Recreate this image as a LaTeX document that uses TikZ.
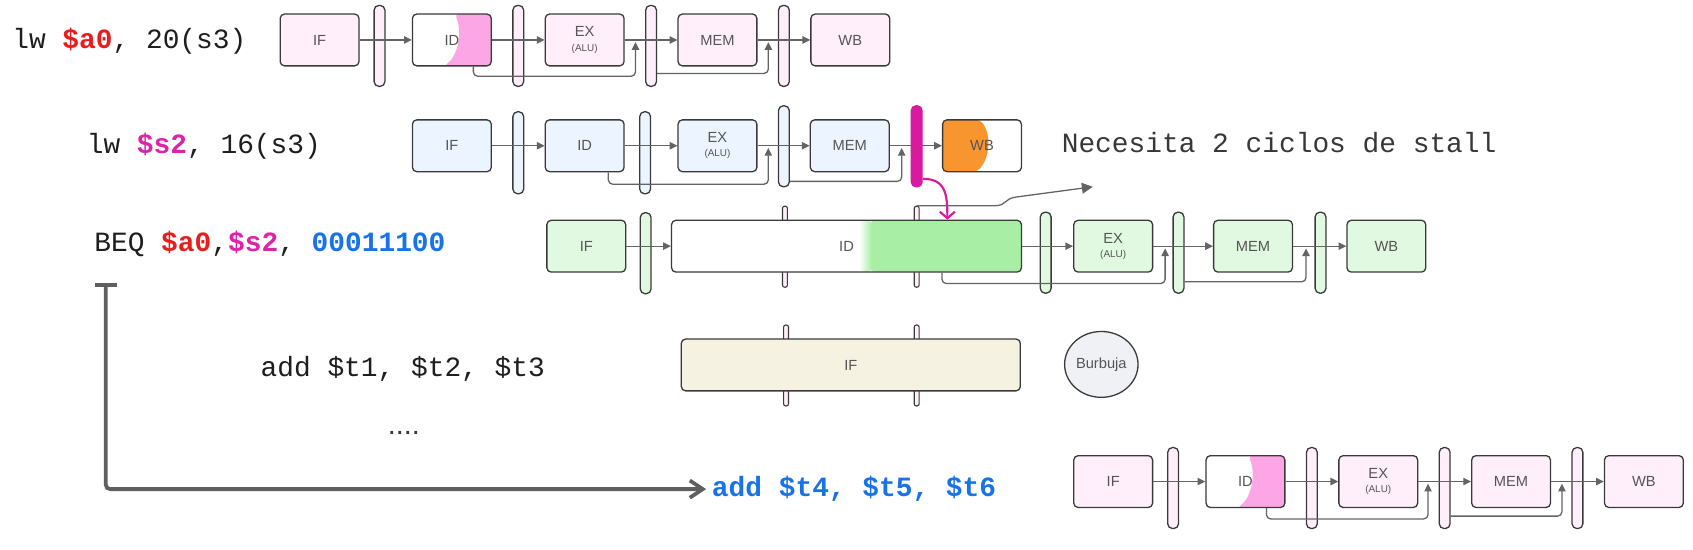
\documentclass[tikz,border=0pt]{standalone}
\usepackage{fontspec}
\setmainfont{Liberation Sans}
\newfontfamily\monof{Liberation Mono}
\usetikzlibrary{arrows.meta,calc,shapes.geometric}

\definecolor{linec}{RGB}{58,58,58}
\definecolor{arrc}{RGB}{100,100,100}
\definecolor{bigarr}{RGB}{95,95,95}
\definecolor{lblc}{RGB}{85,85,85}
\definecolor{pinkbg}{RGB}{255,239,250}
\definecolor{bluebg}{RGB}{235,244,255}
\definecolor{greenbg}{RGB}{225,249,225}
\definecolor{beigebg}{RGB}{245,242,226}
\definecolor{bubblebg}{RGB}{240,241,244}
\definecolor{pinkhi}{RGB}{252,166,230}
\definecolor{orangehi}{RGB}{249,149,47}
\definecolor{greenhi}{RGB}{168,239,165}
\definecolor{magc}{RGB}{217,26,160}
\definecolor{redt}{RGB}{232,30,30}
\definecolor{magt}{RGB}{222,34,170}
\definecolor{bluet}{RGB}{24,115,232}
\definecolor{textc}{RGB}{30,30,30}
\definecolor{notec}{RGB}{55,55,60}

\newcommand{\lblfont}{\fontsize{6.8}{8}\selectfont}
\newcommand{\alufont}{\fontsize{4.6}{5.5}\selectfont}
\newcommand{\codefont}{\monof\fontsize{12.9}{15}\selectfont}
\newcommand{\rd}[1]{{\bfseries\color{redt}#1}}
\newcommand{\mg}[1]{{\bfseries\color{magt}#1}}
\newcommand{\bl}[1]{{\bfseries\color{bluet}#1}}

\tikzset{
  stage/.style={draw=linec, line width=0.6pt, rounded corners=2pt,
    minimum width=36.5pt, minimum height=24pt, inner sep=0pt,
    font=\lblfont, text=lblc, align=center},
  pstage/.style={stage, fill=pinkbg},
  bstage/.style={stage, fill=bluebg},
  gstage/.style={stage, fill=greenbg},
  latch/.style={draw=linec, line width=0.6pt, rounded corners=2.2pt,
    minimum width=5pt, minimum height=37.5pt, inner sep=0pt},
  slim/.style={draw=linec, line width=0.5pt, rounded corners=1pt, fill=pinkbg,
    minimum width=2.3pt, minimum height=37.5pt, inner sep=0pt},
  flow/.style={draw=arrc, line width=0.6pt, -{Triangle[length=3.6pt,width=3.4pt]}},
  fwd/.style={flow, rounded corners=2pt},
  code/.style={anchor=west, inner sep=0pt, font=\codefont, text=textc},
  pinkID/.style={path picture={\fill[pinkhi]
     ($(path picture bounding box.north west)+(39,0)$) .. controls +(8,18) and +(12,-8) ..
     ($(path picture bounding box.south west)+(29,0)$) --
     (path picture bounding box.south east) -- (path picture bounding box.north east) -- cycle;}},
}

\begin{document}
\begin{tikzpicture}[x=0.5pt,y=-0.5pt]
\useasboundingbox[fill=white] (0,0) rectangle (1568,509);

% ---------- texts
\node[code] (t1) at (11,38) {lw \rd{\$a0}, 20(s3)};
\node[code] (t2) at (80,135) {lw \mg{\$s2}, 16(s3)};
\node[code] (t3) at (87,226) {BEQ \rd{\$a0},\mg{\$s2}, \bl{00011100}};
\node[code, text=notec] (note) at (983,132) {Necesita 2 ciclos de stall};
\node[code] (t4) at (241,342) {add \$t1, \$t2, \$t3};
\node[inner sep=0pt, font=\fontsize{13.3}{15}\selectfont, text=notec] (dots) at (374,401) {....};
\node[code] (t5) at (659,453) {\bl{add \$t4, \$t5, \$t6}};

% ---------- row 1
\node[pstage] (if1) at (296,37) {IF};
\node[latch, fill=pinkbg] (l1a) at (351.5,42.5) {};
\node[stage, fill=white, pinkID] (id1) at (418.5,37) {ID};
\node[latch, fill=pinkbg] (l1b) at (480,42.5) {};
\node[pstage] (ex1) at (541.5,37) {EX\\[-1.4pt]{\alufont (ALU)}};
\node[latch, fill=pinkbg] (l1c) at (603,42.5) {};
\node[pstage] (mem1) at (664.5,37) {MEM};
\node[latch, fill=pinkbg] (l1d) at (726,42.5) {};
\node[pstage] (wb1) at (787.5,37) {WB};
\draw[flow] (if1.east) -- (id1.west);
\draw[flow] (id1.east) -- (ex1.west);
\draw[flow] (ex1.east) -- (mem1.west);
\draw[flow] (mem1.east) -- (wb1.west);
\draw[fwd] ($(id1.south west)+(57,0)$) -- ++(0,9) -| ($(ex1.east)+(10,2)$);
\draw[fwd] ($(l1c.east)+(0,25.5)$) -| ($(mem1.east)+(10,2)$);

% ---------- row 2
\node[bstage] (if2) at (418.5,135) {IF};
\node[latch, fill=bluebg, minimum height=38pt] (l2a) at (480,141.5) {};
\node[bstage] (id2) at (541.5,135) {ID};
\node[latch, fill=bluebg, minimum height=38pt] (l2b) at (597.5,141.5) {};
\node[bstage] (ex2) at (664.5,135) {EX\\[-1.4pt]{\alufont (ALU)}};
\node[latch, fill=bluebg] (l2c) at (726,135.5) {};
\node[bstage] (mem2) at (787,135) {MEM};
\node[latch, draw=magc, fill=magc] (mag) at (849,135.5) {};
\node[stage, fill=white, path picture={\fill[orangehi]
     (path picture bounding box.north west) -- ++(35,0) .. controls +(10,14) and +(12,-14) ..
     ($(path picture bounding box.south west)+(32,0)$) -- (path picture bounding box.south west) -- cycle;}]
     (wb2) at (909.5,135) {WB};
\draw[flow] (if2.east) -- (id2.west);
\draw[flow] (id2.east) -- (ex2.west);
\draw[flow] (ex2.east) -- (mem2.west);
\draw[flow] (mem2.east) -- (wb2.west);
\draw[fwd] ($(id2.south west)+(59,0)$) -- ++(0,11) -| ($(ex2.east)+(10,2)$);
\draw[fwd] ($(l2c.east)+(0,32.5)$) -| ($(mem2.east)+(11,2)$);

% ---------- row 3
\node[slim] (sb31) at (727,228.5) {};
\node[slim] (sb32) at (849,228.5) {};
\node[gstage] (if3) at (543,228) {IF};
\node[latch, fill=greenbg] (l3a) at (598,234.5) {};
\node[stage, fill=white, minimum width=162pt, path picture={
     \fill[greenhi] ($(path picture bounding box.north east)+(-140,0)$) rectangle (path picture bounding box.south east);
     \shade[left color=white, right color=greenhi] ($(path picture bounding box.north east)+(-150,0)$) rectangle ($(path picture bounding box.south east)+(-139,0)$);}]
     (id3) at (784,228) {ID};
\node[latch, fill=greenbg] (l3b) at (968.5,234) {};
\node[gstage] (ex3) at (1031,228) {EX\\[-1.4pt]{\alufont (ALU)}};
\node[latch, fill=greenbg] (l3c) at (1091.5,234) {};
\node[gstage] (mem3) at (1160.5,228) {MEM};
\node[latch, fill=greenbg] (l3d) at (1223,234) {};
\node[gstage] (wb3) at (1284,228) {WB};
\draw[flow] (if3.east) -- (id3.west);
\draw[flow] (id3.east) -- (ex3.west);
\draw[flow] (ex3.east) -- (mem3.west);
\draw[flow] (mem3.east) -- (wb3.west);
\draw[fwd] ($(id3.south west)+(251,0)$) -- ++(0,10) -| ($(ex3.east)+(11,2)$);
\draw[fwd] ($(l3c.east)+(0,27)$) -| ($(mem3.east)+(12,2)$);

% stall arrows
\draw[magc, line width=1pt, -{Straight Barb[length=3pt,width=7pt]}]
  ($(mag.south east)+(0,-8)$) .. controls +(22,0) and +(0,-22) .. ($(id3.north west)+(256,0)$);
\coordinate (stallend) at (1012,173);
\draw[arrc, line width=0.6pt, -{Triangle[length=5pt,width=5pt]}]
  (sb32.north) -- ++(72,0) .. controls +(12,0) and +(-12,1.7) .. ++(20,-8) -- (stallend);

% ---------- row 4
\node[slim] (sb41) at (728,338.5) {};
\node[slim] (sb42) at (849,338.5) {};
\node[stage, fill=beigebg, minimum width=157pt] (if4) at (788,338) {IF};
\node[ellipse, draw=linec, line width=0.6pt, fill=bubblebg, minimum width=34pt, minimum height=30.5pt,
      inner sep=0pt, font=\lblfont, text=lblc] (bub) at (1020,337.5) {Burbuja};

% ---------- row 5
\node[pstage] (if5) at (1031,446) {IF};
\node[latch, fill=pinkbg] (l5a) at (1086.5,452) {};
\node[stage, fill=white, pinkID] (id5) at (1153.5,446) {ID};
\node[latch, fill=pinkbg] (l5b) at (1215,452) {};
\node[pstage] (ex5) at (1276.5,446) {EX\\[-1.4pt]{\alufont (ALU)}};
\node[latch, fill=pinkbg] (l5c) at (1338,452) {};
\node[pstage] (mem5) at (1399.5,446) {MEM};
\node[latch, fill=pinkbg] (l5d) at (1461,452) {};
\node[pstage] (wb5) at (1522.5,446) {WB};
\draw[flow] (if5.east) -- (id5.west);
\draw[flow] (id5.east) -- (ex5.west);
\draw[flow] (ex5.east) -- (mem5.west);
\draw[flow] (mem5.east) -- (wb5.west);
\draw[fwd] ($(id5.south west)+(56.5,0)$) -- ++(0,10) -| ($(ex5.east)+(9,2)$);
\draw[fwd] ($(l5c.east)+(0,26)$) -| ($(mem5.east)+(10,2)$);

% ---------- branch arrow
\coordinate (beqstart) at (98,262);
\draw[bigarr, line width=1.75pt, rounded corners=2pt,
      {Bar[width=10pt]}-{Straight Barb[length=6pt,width=8pt]}]
  (beqstart) |- ($(t5.west)+(-5,0)$);
\end{tikzpicture}
\end{document}
